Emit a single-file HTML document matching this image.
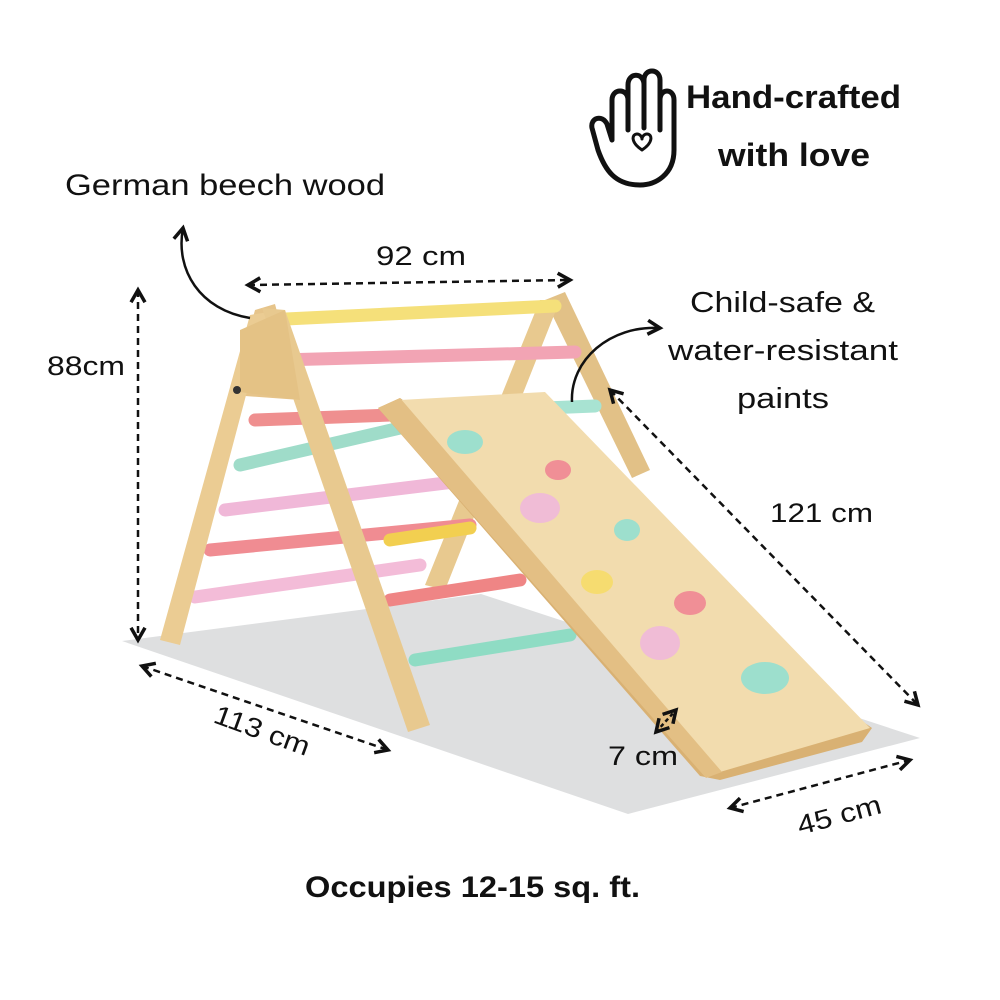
<!DOCTYPE html>
<html><head><meta charset="utf-8"><style>
html,body{margin:0;padding:0;background:#fff;}
svg{display:block}
text{font-family:"Liberation Sans",sans-serif;fill:#111}
</style></head><body>
<svg width="1000" height="1000" viewBox="0 0 1000 1000" xmlns="http://www.w3.org/2000/svg">
<defs>
<marker id="ah" viewBox="0 0 10 10" refX="8" refY="5" markerWidth="7" markerHeight="7" orient="auto-start-reverse">
<path d="M1,1 L8,5 L1,9" fill="none" stroke="#111" stroke-width="2"/>
</marker>
</defs>
<polygon points="122,641 481,594 920,738 628,814" fill="#dedfe0"/>

<polygon points="545,300 565,292 650,470 632,478" fill="#e2c187"/>
<polygon points="540,300 560,300 445,590 425,585" fill="#e8c98f"/>
<g stroke-linecap="round" stroke-width="13">
<line x1="265" y1="320" x2="555" y2="306" stroke="#f5e07a"/>
<line x1="280" y1="360" x2="575" y2="352" stroke="#f2a4b4"/>
<line x1="255" y1="420" x2="530" y2="410" stroke="#ef8f8f"/>
<line x1="240" y1="465" x2="400" y2="428" stroke="#9fdcc9"/>
<line x1="225" y1="510" x2="470" y2="480" stroke="#f0b8d8"/>
<line x1="210" y1="550" x2="470" y2="525" stroke="#f08c92"/>
<line x1="195" y1="597" x2="420" y2="565" stroke="#f3bcd8"/>
<line x1="390" y1="540" x2="470" y2="528" stroke="#f2cf50"/>
<line x1="390" y1="600" x2="520" y2="580" stroke="#ef8585"/>
<line x1="415" y1="660" x2="570" y2="635" stroke="#8fdcc4"/>
<line x1="545" y1="408" x2="595" y2="406" stroke="#a8e3d2"/>
</g>
<polygon points="255,310 275,304 300,400 232,395" fill="#e6c48a"/>
<polygon points="250,315 268,312 180,645 160,640" fill="#ebcc93"/>
<polygon points="262,308 285,310 430,725 408,732" fill="#e8c98f"/>
<polygon points="240,330 285,310 300,400 240,392" fill="#e4c285"/>
<circle cx="237" cy="390" r="4" fill="#333"/>

<polygon points="378,408 400,398 872,728 862,742 720,780 700,776" fill="#d9b173"/>
<polygon points="400,400 545,392 870,728 720,772" fill="#f2dcae"/>
<polygon points="378,408 400,398 722,772 706,778" fill="#e3bf84"/>
<g>
<ellipse cx="465" cy="442" rx="18" ry="12" fill="#9ddfcd"/>
<ellipse cx="558" cy="470" rx="13" ry="10" fill="#f08f96"/>
<ellipse cx="540" cy="508" rx="20" ry="15" fill="#f0bcd6"/>
<ellipse cx="627" cy="530" rx="13" ry="11" fill="#9ddfcd"/>
<ellipse cx="597" cy="582" rx="16" ry="12" fill="#f6dc70"/>
<ellipse cx="690" cy="603" rx="16" ry="12" fill="#f08f96"/>
<ellipse cx="660" cy="643" rx="20" ry="17" fill="#f0bcd6"/>
<ellipse cx="765" cy="678" rx="24" ry="16" fill="#9ddfcd"/>
</g>

<g fill="none" stroke="#111" stroke-width="2.5" stroke-dasharray="7,5" marker-start="url(#ah)" marker-end="url(#ah)">
<line x1="248" y1="285" x2="570" y2="280"/>
<line x1="138" y1="290" x2="138" y2="640"/>
<line x1="142" y1="666" x2="388" y2="750"/>
<line x1="610" y1="390" x2="918" y2="705"/>
<line x1="730" y1="808" x2="910" y2="760"/>
<line x1="656" y1="732" x2="676" y2="710" stroke-dasharray="4,3"/>
</g>
<g fill="none" stroke="#111" stroke-width="2.5" marker-end="url(#ah)">
<path d="M250,318 C200,310 175,270 183,228"/>
<path d="M572,402 C570,360 610,325 660,328"/>
</g>

<g fill="none" stroke="#111" stroke-width="5" stroke-linecap="round" stroke-linejoin="round">
<path d="M612,140 L612,100 C612,88 628,88 628,100 L628,130 L628,85 C628,72 644,72 644,85 L644,128 L644,80 C644,68 660,68 660,80 L660,130 L660,100 C660,88 674,88 674,100 L674,150 C674,175 655,185 640,185 C615,185 605,170 598,150 L592,128 C590,118 602,114 607,124 Z"/>
<path d="M642,150 C630,142 632,134 637,134 C640,134 642,137 642,139 C642,137 644,134 647,134 C652,134 654,142 642,150 Z" stroke-width="3"/>
</g>

<text x="65" y="195" font-size="30" textLength="320" lengthAdjust="spacingAndGlyphs">German beech wood</text>
<text x="376" y="265" font-size="27" textLength="90" lengthAdjust="spacingAndGlyphs">92 cm</text>
<text x="47" y="375" font-size="27" textLength="78" lengthAdjust="spacingAndGlyphs">88cm</text>
<text x="690" y="312" font-size="29" textLength="185" lengthAdjust="spacingAndGlyphs">Child-safe &amp;</text>
<text x="668" y="360" font-size="29" textLength="230" lengthAdjust="spacingAndGlyphs">water-resistant</text>
<text x="737" y="408" font-size="29" textLength="92" lengthAdjust="spacingAndGlyphs">paints</text>
<text x="770" y="522" font-size="27" textLength="103" lengthAdjust="spacingAndGlyphs">121 cm</text>
<text x="608" y="765" font-size="27" textLength="70" lengthAdjust="spacingAndGlyphs">7 cm</text>
<text x="212" y="722" font-size="27" transform="rotate(20 212 722)" textLength="100" lengthAdjust="spacingAndGlyphs">113 cm</text>
<text x="800" y="835" font-size="27" transform="rotate(-15 800 835)" textLength="86" lengthAdjust="spacingAndGlyphs">45 cm</text>
<text x="686" y="108" font-size="32" font-weight="bold" textLength="215" lengthAdjust="spacingAndGlyphs">Hand-crafted</text>
<text x="718" y="166" font-size="32" font-weight="bold" textLength="152" lengthAdjust="spacingAndGlyphs">with love</text>
<text x="305" y="897" font-size="30" font-weight="bold" textLength="335" lengthAdjust="spacingAndGlyphs">Occupies 12-15 sq. ft.</text>
</svg>
</body></html>
